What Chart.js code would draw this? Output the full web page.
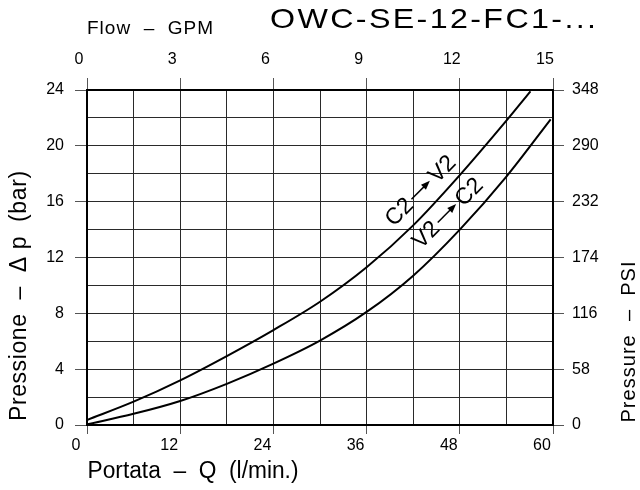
<!DOCTYPE html>
<html>
<head>
<meta charset="utf-8">
<script src="https://cdn.jsdelivr.net/npm/chart.js@4/dist/chart.umd.min.js"></script>
<style>
  html, body { margin: 0; padding: 0; background: #ffffff; }
  #wrap { width: 640px; height: 490px; position: relative; }
</style>
</head>
<body>
<div id="wrap"><canvas id="c" width="640" height="490"></canvas></div>
<script>
// ---- data ----
const flowUpper = [0, 6, 12, 18, 24, 30, 36, 42, 48, 54, 57.1];          // l/min, C2 -> V2
const presUpper = [0.36, 1.67, 3.2, 4.94, 6.8, 8.83, 11.3, 14.3, 17.9, 21.8, 23.9]; // bar
const flowLower = [0, 6, 12, 18, 24, 30, 36, 42, 48, 54, 59.7];          // l/min, V2 -> C2
const presLower = [0.05, 0.8, 1.72, 2.95, 4.4, 6.05, 8.1, 10.7, 14.0, 17.8, 21.9]; // bar

const flowTicks = [0, 12, 24, 36, 48, 60];          // bottom axis, l/min
const gpmLabels = ['0', '3', '6', '9', '12', '15']; // top axis, GPM
const barTicks  = [0, 4, 8, 12, 16, 20, 24];        // left axis, bar
const psiLabels = ['0', '58', '116', '174', '232', '290', '348']; // right axis, PSI

const seriesNames = ['C2 → V2', 'V2 → C2'];

const toPts = (xs, ys) => xs.map((x, i) => ({ x: x, y: ys[i] }));

const SANS = '"Liberation Sans", Arial, sans-serif';

// draws text centred at (cx, cy), optionally widened (stretch) then spread or shrunk to the given width
function fitText(ctx, text, cx, cy, width, font, rot, stretch) {
  const st = stretch || 1;
  ctx.save();
  ctx.font = font;
  ctx.letterSpacing = '0px';
  const w = ctx.measureText(text).width * st;
  ctx.translate(cx, cy);
  if (rot) ctx.rotate(rot);
  if (width > w) {
    const ls = (width - w) / Math.max(1, text.length - 1) / st;
    ctx.letterSpacing = ls.toFixed(2) + 'px';
    ctx.scale(st, 1);
    ctx.translate(ls / 2, 0);
  } else {
    ctx.scale(st * width / w, 1);
  }
  ctx.textAlign = 'center';
  ctx.textBaseline = 'middle';
  ctx.fillStyle = '#000';
  ctx.fillText(text, 0, 0);
  ctx.restore();
}

function arrowLabel(ctx, a, b, cx, cy, rot) {
  ctx.save();
  ctx.translate(cx, cy);
  ctx.rotate(rot);
  ctx.font = '23px ' + SANS;
  ctx.fillStyle = '#000';
  ctx.strokeStyle = '#000';
  ctx.textBaseline = 'middle';
  const wa = ctx.measureText(a).width, wb = ctx.measureText(b).width;
  const gap = 3, arr = 26;
  const total = wa + gap + arr + gap + wb;
  let x = -total / 2;
  ctx.textAlign = 'left';
  ctx.fillText(a, x, 1);
  x += wa + gap;
  ctx.lineWidth = 1.5;
  ctx.beginPath(); ctx.moveTo(x, 0); ctx.lineTo(x + arr - 6, 0); ctx.stroke();
  ctx.beginPath(); ctx.moveTo(x + arr, 0); ctx.lineTo(x + arr - 9, -3.5); ctx.lineTo(x + arr - 9, 3.5); ctx.closePath(); ctx.fill();
  x += arr + gap;
  ctx.fillText(b, x, 1);
  ctx.restore();
}

const textPlugin = {
  id: 'texts',
  afterDraw(chart) {
    const ctx = chart.ctx;
    fitText(ctx, 'OWC-SE-12-FC1-...', 433, 20, 326, '28px ' + SANS, 0, 1.15);
    fitText(ctx, 'Flow  –  GPM', 150, 29, 126, '19px ' + SANS);
    fitText(ctx, 'Pressione  –  Δ p  (bar)', 20, 296, 250, '23px ' + SANS, -Math.PI / 2);
    fitText(ctx, 'Pressure  –  PSI', 629, 342, 161, '20px ' + SANS, -Math.PI / 2);
    fitText(ctx, 'Portata  –  Q  (l/min.)', 193, 472, 211, '23px ' + SANS);
    const xs = chart.scales.x, ys = chart.scales.y;
    arrowLabel(ctx, 'C2', 'V2', xs.getPixelForValue(42.9), ys.getPixelForValue(16.8), -Math.PI / 4);
    arrowLabel(ctx, 'V2', 'C2', xs.getPixelForValue(46.4), ys.getPixelForValue(15.2), -Math.PI / 4);
  }
};

const tickFont = { family: SANS, size: 16 };
const majorTick = '#555';

new Chart(document.getElementById('c'), {
  type: 'line',
  data: {
    datasets: [
      { label: seriesNames[0], data: toPts(flowUpper, presUpper), borderColor: '#000', borderWidth: 2, pointRadius: 0, cubicInterpolationMode: 'monotone', fill: false },
      { label: seriesNames[1], data: toPts(flowLower, presLower), borderColor: '#000', borderWidth: 2, pointRadius: 0, cubicInterpolationMode: 'monotone', fill: false }
    ]
  },
  options: {
    responsive: false,
    animation: false,
    layout: { padding: 0 },
    plugins: { legend: { display: false }, tooltip: { enabled: false }, title: { display: false } },
    scales: {
      x: {
        type: 'linear', position: 'bottom', min: 0, max: 60,
        afterFit: s => { s.height = 65; },
        afterBuildTicks: s => { s.ticks = []; for (let v = 0; v <= 60; v += 6) s.ticks.push({ value: v }); },
        ticks: {
          font: tickFont, color: '#000', padding: 2, labelOffset: -11, maxRotation: 0, autoSkip: false,
          callback: v => { const i = flowTicks.indexOf(v); return i >= 0 ? String(flowTicks[i]) : ''; }
        },
        grid: {
          color: '#2a2a2a', lineWidth: 1, tickLength: 9,
          tickColor: c => flowTicks.indexOf(c.tick && c.tick.value) >= 0 ? majorTick : 'rgba(0,0,0,0)'
        },
        border: { color: '#000', width: 2 }
      },
      x2: {
        type: 'linear', position: 'top', min: 0, max: 60,
        afterFit: s => { s.height = 90; },
        afterBuildTicks: s => { s.ticks = flowTicks.map(v => ({ value: v })); },
        ticks: {
          font: tickFont, color: '#000', padding: 9, labelOffset: -8, maxRotation: 0, autoSkip: false,
          callback: (v, i) => gpmLabels[i]
        },
        grid: { drawOnChartArea: false, tickLength: 12, color: majorTick, tickColor: majorTick },
        border: { color: '#000', width: 2 }
      },
      y: {
        type: 'linear', position: 'left', min: 0, max: 24,
        afterFit: s => { s.width = 87; },
        afterBuildTicks: s => { s.ticks = []; for (let v = 0; v <= 24; v += 2) s.ticks.push({ value: v }); },
        ticks: {
          font: tickFont, color: '#000', padding: 11, autoSkip: false,
          callback: v => { const i = barTicks.indexOf(v); return i >= 0 ? String(barTicks[i]) : ''; }
        },
        grid: {
          color: '#2a2a2a', lineWidth: 1, tickLength: 12,
          tickColor: c => barTicks.indexOf(c.tick && c.tick.value) >= 0 ? majorTick : 'rgba(0,0,0,0)'
        },
        border: { color: '#000', width: 2 }
      },
      y2: {
        type: 'linear', position: 'right', min: 0, max: 24,
        afterFit: s => { s.width = 87; },
        afterBuildTicks: s => { s.ticks = barTicks.map(v => ({ value: v })); },
        ticks: {
          font: tickFont, color: '#000', padding: 8, autoSkip: false,
          callback: (v, i) => psiLabels[i]
        },
        grid: { drawOnChartArea: false, tickLength: 11, color: majorTick, tickColor: majorTick },
        border: { color: '#000', width: 2 }
      }
    }
  },
  plugins: [textPlugin]
});
</script>
</body>
</html>
